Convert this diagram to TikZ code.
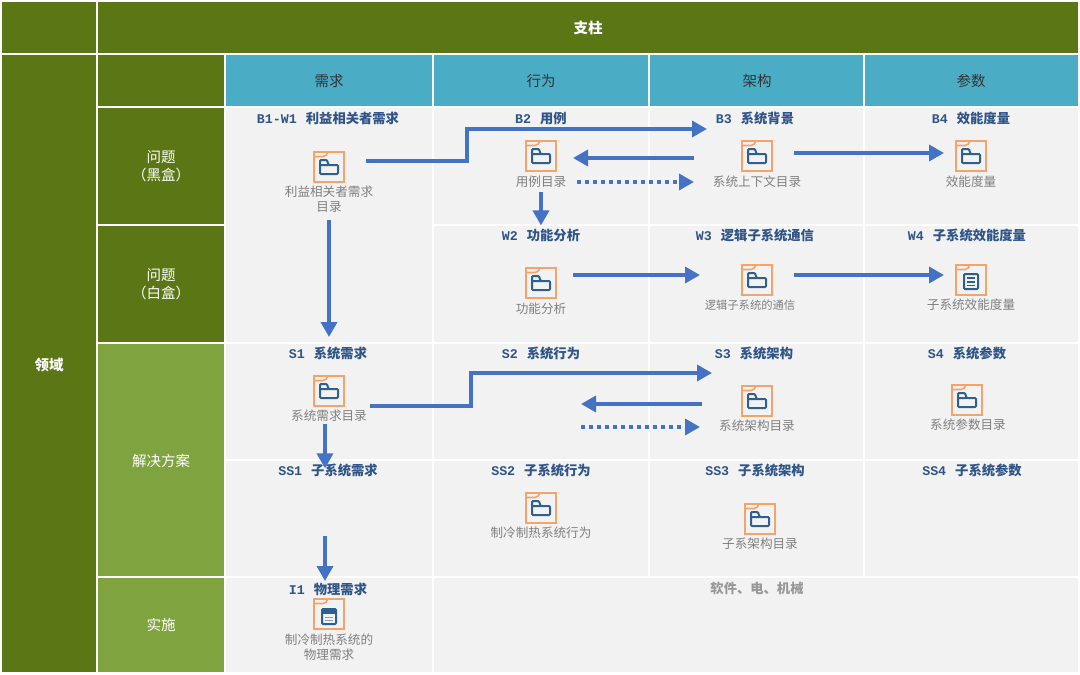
\documentclass[tikz,border=0pt]{standalone}
\usepackage{fontspec}
\usetikzlibrary{arrows.meta}
\setmainfont{Noto Sans CJK SC}
\newfontfamily\latbold{Liberation Mono}[Scale=1.0]
\definecolor{darkgreen}{HTML}{5B7615}
\definecolor{lightgreen}{HTML}{7FA33F}
\definecolor{headblue}{HTML}{4BACC6}
\definecolor{cellgrey}{HTML}{F2F2F2}
\definecolor{iconorange}{HTML}{F4A46A}
\definecolor{iconblue}{HTML}{2F5F8F}
\definecolor{titleblue}{HTML}{2F5488}
\definecolor{arrowblue}{HTML}{4472C4}
\definecolor{labgrey}{HTML}{7F7F7F}
\tikzset{
  gridcell/.style={draw=white,line width=1.2pt},
  darkcell/.style={gridcell,fill=darkgreen},
  lightcell/.style={gridcell,fill=lightgreen},
  bluecell/.style={gridcell,fill=headblue},
  greycell/.style={gridcell,fill=cellgrey},
  whitelab/.style={text=white,inner sep=0pt,align=center,font=\fontsize{14.5}{18}\selectfont},
  whitebold/.style={whitelab,font=\fontsize{14.5}{18}\selectfont\bfseries},
  headlab/.style={text=black!80,inner sep=0pt,font=\fontsize{14.5}{18}\selectfont},
  titlelab/.style={text=titleblue,inner sep=0pt,font=\fontsize{13.3}{16}\selectfont\bfseries},
  greylab/.style={text=labgrey,inner sep=0pt,align=center,font=\fontsize{12.6}{15}\selectfont},
  iconframe/.style={draw=iconorange,line width=2pt,minimum size=30pt,inner sep=0pt,fill=cellgrey},
  conn/.style={draw=arrowblue,line width=3.5pt,-{Triangle[length=15pt,width=16pt]}},
  dotconn/.style={draw=arrowblue,line width=3.5pt,dash pattern=on 4pt off 4pt,-{Triangle[length=15pt,width=16pt,sep=0pt]}},
  iconink/.style={draw=iconblue,line width=2pt,line join=round,rounded corners=1pt},
}
\newcommand{\tabmark}{%
  \draw[iconorange,line width=1.6pt] (-15.5,-10.5) -- (-6,-10.5) .. controls (-3,-10.5) and (-1.5,-13) .. (-1,-15.5);}
\newcommand{\foldermark}{%
  \draw[iconink] (-9,7) -- (-9,-7) -- (-2,-7) -- (-0.5,-2) -- (9,-2) -- (9,7) -- cycle (-9,-2) -- (-0.5,-2);}
\newcommand{\docmark}{%
  \draw[iconink] (-7,-6) rectangle (7,9);
  \draw[iconblue,line width=1.8pt] (-4,-2) -- (4,-2) (-4,2) -- (4,2) (-4,5.5) -- (4,5.5);}
\newcommand{\dbmark}{%
  \fill[iconblue] (-7,-5) rectangle (7,0);
  \draw[iconink] (-7,-5) rectangle (7,10);
  \draw[iconblue!60,line width=1pt] (-4,3) -- (4,3) (-4,6.5) -- (4,6.5);}
\newcommand{\iconbox}[4]{%
  \node[iconframe] (#1) at (#2,#3) {};
  \begin{scope}[shift={(#2,#3)}]\tabmark #4\end{scope}}
\newcommand{\lat}[1]{{\latbold\bfseries #1}\hspace{9pt}}
\begin{document}
\begin{tikzpicture}[x=1pt,y=-1pt]
\useasboundingbox (0,0) rectangle (1080,675);
% grid
\path[darkcell] (1,1) rectangle (97,54);
\path[darkcell] (97,1) rectangle (1079,54);
\path[darkcell] (1,54) rectangle (97,673);
\path[darkcell] (97,54) rectangle (225,107);
\path[darkcell] (97,107) rectangle (225,225);
\path[darkcell] (97,225) rectangle (225,343);
\path[lightcell] (97,343) rectangle (225,577);
\path[lightcell] (97,577) rectangle (225,673);
\path[bluecell] (225,54) rectangle (433,107);
\path[bluecell] (433,54) rectangle (649,107);
\path[bluecell] (649,54) rectangle (864,107);
\path[bluecell] (864,54) rectangle (1079,107);
\path[greycell] (225,107) rectangle (433,343);
\foreach \xa/\xb in {433/649,649/864,864/1079}{
  \path[greycell] (\xa,107) rectangle (\xb,225);
  \path[greycell] (\xa,225) rectangle (\xb,343);
}
\foreach \xa/\xb in {225/433,433/649,649/864,864/1079}{
  \path[greycell] (\xa,343) rectangle (\xb,460);
  \path[greycell] (\xa,460) rectangle (\xb,577);
}
\path[greycell] (225,577) rectangle (433,673);
\path[greycell] (433,577) rectangle (1079,673);
% header labels
\node[whitebold] (pillar) at (588,28) {支柱};
\node[whitebold] (domain) at (49,365) {领域};
\node[whitelab] (rowblack) at (161,166) {问题\\（黑盒）};
\node[whitelab] (rowwhite) at (161,284) {问题\\（白盒）};
\node[whitelab] (rowsol) at (161,461) {解决方案};
\node[whitelab] (rowimp) at (161,625) {实施};
\node[headlab] (hreq) at (329,81) {需求};
\node[headlab] (hbeh) at (541,81) {行为};
\node[headlab] (harc) at (757,81) {架构};
\node[headlab] (hpar) at (971,81) {参数};
% titles
\node[titlelab] (tb1) at (328,118) {\lat{B1-W1}利益相关者需求};
\node[titlelab] (tb2) at (541,118) {\lat{B2}用例};
\node[titlelab] (tb3) at (755,118) {\lat{B3}系统背景};
\node[titlelab] (tb4) at (971,118) {\lat{B4}效能度量};
\node[titlelab] (tw2) at (541,235) {\lat{W2}功能分析};
\node[titlelab] (tw3) at (755,235) {\lat{W3}逻辑子系统通信};
\node[titlelab] (tw4) at (967,235) {\lat{W4}子系统效能度量};
\node[titlelab] (ts1) at (328,353) {\lat{S1}系统需求};
\node[titlelab] (ts2) at (541,353) {\lat{S2}系统行为};
\node[titlelab] (ts3) at (754,353) {\lat{S3}系统架构};
\node[titlelab] (ts4) at (967,353) {\lat{S4}系统参数};
\node[titlelab] (tss1) at (328,470) {\lat{SS1}子系统需求};
\node[titlelab] (tss2) at (541,470) {\lat{SS2}子系统行为};
\node[titlelab] (tss3) at (755,470) {\lat{SS3}子系统架构};
\node[titlelab] (tss4) at (972,470) {\lat{SS4}子系统参数};
\node[titlelab] (ti1) at (328,589) {\lat{I1}物理需求};
\node[titlelab,text=labgrey!80] (tother) at (757,588) {软件、电、机械};
% icons
\iconbox{b1}{329}{167}{\foldermark}
\iconbox{b2}{541}{156}{\foldermark}
\iconbox{b3}{757}{156}{\foldermark}
\iconbox{b4}{971}{156}{\foldermark}
\iconbox{w2}{541}{283}{\foldermark}
\iconbox{w3}{757}{280}{\foldermark}
\iconbox{w4}{971}{280}{\docmark}
\iconbox{s1}{329}{391}{\foldermark}
\iconbox{s3}{757}{401}{\foldermark}
\iconbox{s4}{967}{400}{\foldermark}
\iconbox{ss2}{541}{508}{\foldermark}
\iconbox{ss3}{760}{519}{\foldermark}
\iconbox{i1}{329}{614}{\dbmark}
% icon labels
\node[greylab] (lb1) at (329,199) {利益相关者需求\\目录};
\node[greylab] (lb2) at (541,182) {用例目录};
\node[greylab] (lb3) at (757,182) {系统上下文目录};
\node[greylab] (lb4) at (971,182) {效能度量};
\node[greylab] (lw2) at (541,309) {功能分析};
\node[greylab,font=\fontsize{11.3}{15}\selectfont] (lw3) at (750,305) {逻辑子系统的通信};
\node[greylab] (lw4) at (971,305) {子系统效能度量};
\node[greylab] (ls1) at (329,416) {系统需求目录};
\node[greylab] (ls3) at (757,426) {系统架构目录};
\node[greylab] (ls4) at (968,425) {系统参数目录};
\node[greylab] (lss2) at (541,533) {制冷制热系统行为};
\node[greylab] (lss3) at (760,544) {子系架构目录};
\node[greylab] (li1) at (329,647) {制冷制热系统的\\物理需求};
% connectors
\draw[conn] ([shift={(21,-6)}]b1.east) -- ++(101,0) -- ++(0,-32) -- ([shift={(-34,-27)}]b3.west);
\draw[conn] ([shift={(-47,2)}]b3.west) -- ([shift={(16,2)}]b2.east);
\draw[dotconn] ([shift={(20,26)}]b2.east) -- ([shift={(-47,26)}]b3.west);
\draw[conn] ([shift={(21,-3)}]b3.east) -- ([shift={(-11,-3)}]b4.west);
\draw[conn] ([shift={(0,20)}]b2.south) -- ([shift={(0,-3)}]tw2.north);
\draw[conn] ([shift={(0,37)}]b1.south) -- ([shift={(0,-38)}]s1.north);
\draw[conn] ([shift={(16,-8)}]w2.east) -- ([shift={(-41,-5)}]w3.west);
\draw[conn] ([shift={(21,-5)}]w3.east) -- ([shift={(-11,-5)}]w4.west);
\draw[conn] ([shift={(25,15)}]s1.east) -- ++(101,0) -- ++(0,-33) -- ([shift={(-29,-28)}]s3.west);
\draw[conn] ([shift={(-39,3)}]s3.west) -- ([shift={(-160,3)}]s3.west);
\draw[dotconn] ([shift={(-160,26)}]s3.west) -- ([shift={(-41,26)}]s3.west);
\draw[conn] ([shift={(-4,17)}]s1.south) -- ([shift={(-3,5)}]tss1.north);
\draw[conn] ([shift={(-4,-62)}]i1.north) -- ([shift={(-4,-17)}]i1.north);
\end{tikzpicture}
\end{document}
